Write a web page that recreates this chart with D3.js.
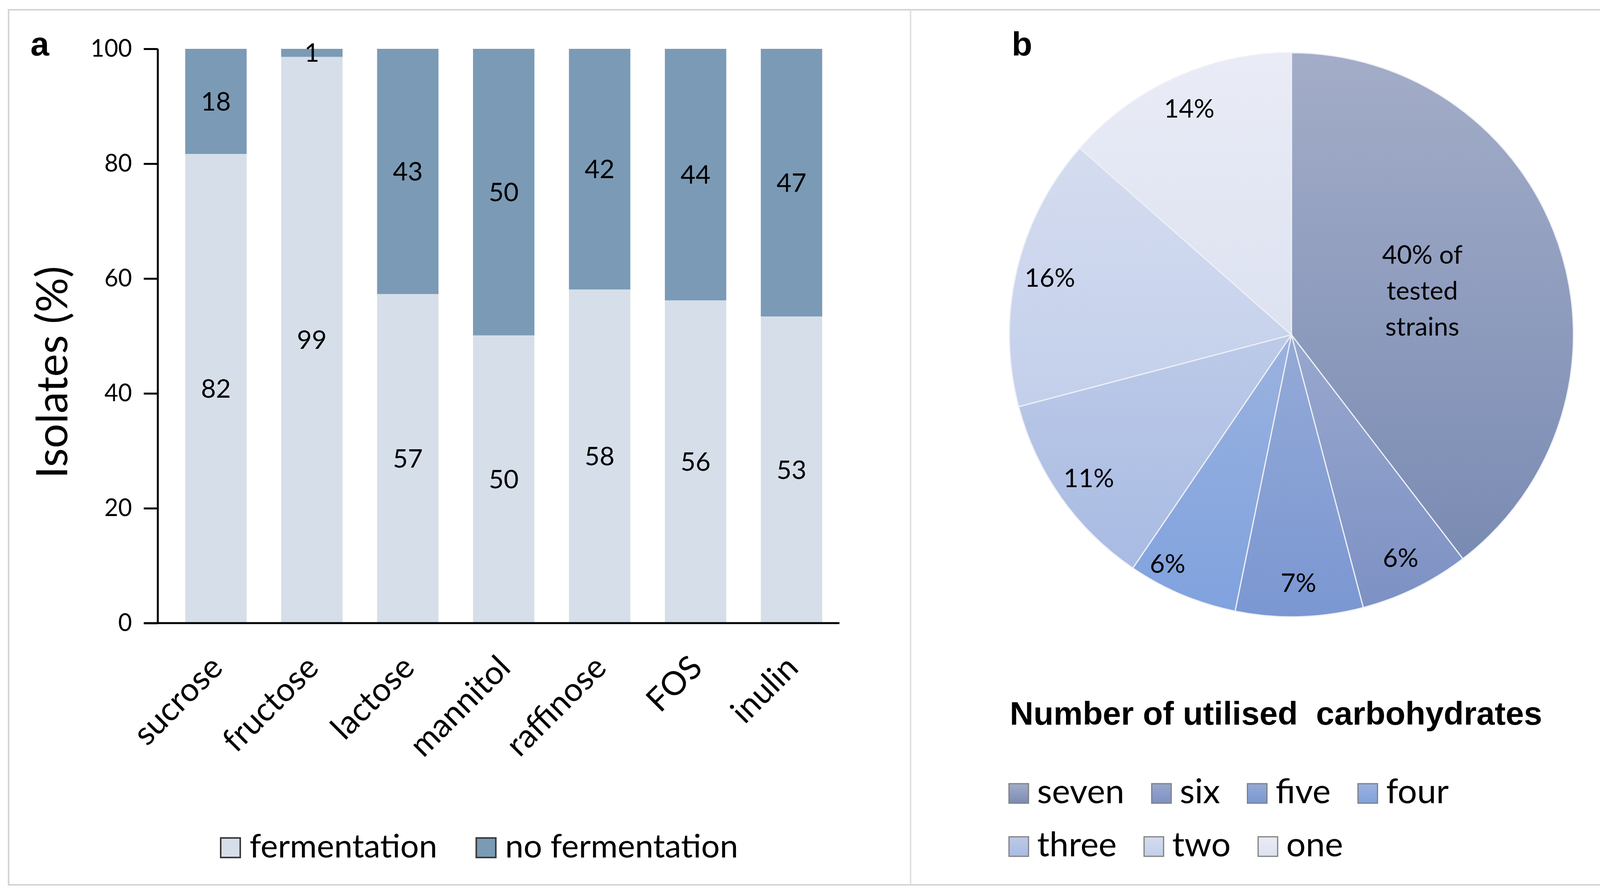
<!DOCTYPE html>
<html>
<head>
<meta charset="utf-8">
<script src="https://cdn.jsdelivr.net/npm/d3@7"></script>
<style>
  body { margin: 0; background: #fff; }
  text { font-family: Lato, "Open Sans", sans-serif; fill: #000; }
</style>
</head>
<body>
<svg id="fig"></svg>
<script>
// panel a data
var categories = ["sucrose", "fructose", "lactose", "mannitol", "raffinose", "FOS", "inulin"];
var fermentation = [81.7, 98.6, 57.3, 50.1, 58.1, 56.2, 53.4];
var noFermentation = [18.3, 1.4, 42.7, 49.9, 41.9, 43.8, 46.6];
var seriesNames = ["fermentation", "no fermentation"];
var yTicks = [0, 20, 40, 60, 80, 100];

// panel b data
var pieNames = ["seven", "six", "five", "four", "three", "two", "one"];
var pieValues = [39.6, 6.3, 7.3, 6.3, 11.4, 15.6, 13.5];
var legendTitle = "Number of utilised  carbohydrates";

var barColors = ["#d6dfe9", "#7b9ab5"];
var pieTop = ["#a3adc8", "#98a7cd", "#94aad7", "#9ab2df", "#bdcae8", "#d4dcef", "#e9ecf6"];
var pieBottom = ["#7a8bb3", "#7d91c4", "#7b97d2", "#80a2de", "#a8bbe3", "#c3cfeb", "#dde2f1"];

var WIDTH = 4150, HEIGHT = 2291;
var svg = d3.select("#fig").attr("width", WIDTH).attr("height", HEIGHT);
var defs = svg.append("defs");

// frame
svg.append("rect").attr("x", 22).attr("y", 25).attr("width", 4096).attr("height", 2240)
    .attr("fill", "none").attr("stroke", "#d4d4d4").attr("stroke-width", 4);
svg.append("line").attr("x1", 2331).attr("x2", 2331).attr("y1", 25).attr("y2", 2265)
    .attr("stroke", "#e0e0e0").attr("stroke-width", 4);

svg.append("text").attr("x", 78).attr("y", 142).text("a")
    .style("font-family", "'Liberation Sans', Arial, sans-serif").style("font-weight", "bold").style("font-size", "86px");
svg.append("text").attr("x", 2590).attr("y", 142).text("b")
    .style("font-family", "'Liberation Sans', Arial, sans-serif").style("font-weight", "bold").style("font-size", "86px");

// ---------- bar chart ----------
var axisX = 404;
var x = d3.scaleBand().domain(categories).range([430, 2149]).paddingInner(0.36).paddingOuter(0.18);
var y = d3.scaleLinear().domain([0, 100]).range([1595, 125]);

var g = svg.append("g");
var rows = categories.map(function(c, i) {
    return {cat: c, fermentation: fermentation[i], "no fermentation": noFermentation[i]};
});
var stacked = d3.stack().keys(seriesNames)(rows);

var layer = g.selectAll("g.layer").data(stacked).enter().append("g")
    .attr("fill", function(d, i) { return barColors[i]; });
layer.selectAll("rect").data(function(d) { return d; }).enter().append("rect")
    .attr("x", function(d) { return x(d.data.cat); })
    .attr("width", x.bandwidth())
    .attr("y", function(d) { return y(d[1]); })
    .attr("height", function(d) { return y(d[0]) - y(d[1]); });
layer.selectAll("text").data(function(d) { return d; }).enter().append("text")
    .attr("x", function(d) { return x(d.data.cat) + x.bandwidth() / 2; })
    .attr("y", function(d) { return y((d[0] + d[1]) / 2); })
    .attr("dy", "0.35em")
    .attr("text-anchor", "middle")
    .style("font-size", "66px")
    .text(function(d) { return Math.round(d[1] - d[0]); });

var yAxis = g.append("g").attr("transform", "translate(" + axisX + ",0)")
    .call(d3.axisLeft(y).tickValues(yTicks).tickSize(36).tickPadding(30));
yAxis.select(".domain").attr("stroke", "#000").attr("stroke-width", 5).attr("d", "M0," + y(100) + "V" + y(0));
yAxis.selectAll(".tick line").attr("stroke", "#000").attr("stroke-width", 5);
yAxis.selectAll(".tick text").style("font-size", "61px").style("font-family", "Lato, sans-serif");

var xAxis = g.append("g").attr("transform", "translate(0," + y(0) + ")")
    .call(d3.axisBottom(x).tickSize(0));
xAxis.select(".domain").attr("stroke", "#000").attr("stroke-width", 5)
    .attr("d", "M" + (axisX - 36) + ",0H2149");
xAxis.selectAll(".tick text")
    .attr("x", 0).attr("y", 0).attr("dy", 0)
    .attr("text-anchor", "end")
    .attr("transform", "translate(22,119) rotate(-45)")
    .style("font-size", "84px").style("font-family", "Lato, sans-serif");

svg.append("text")
    .attr("transform", "translate(172,953) rotate(-90)")
    .attr("text-anchor", "middle")
    .style("font-size", "111px")
    .text("Isolates (%)");

// legend a
var lgA = svg.append("g");
var lx = 565;
seriesNames.forEach(function(name, i) {
    lgA.append("rect").attr("x", lx).attr("y", 2145).attr("width", 50).attr("height", 50)
        .attr("fill", barColors[i]).attr("stroke", "#3a3a3a").attr("stroke-width", 4);
    var t = lgA.append("text").attr("x", lx + 74).attr("y", 2195).style("font-size", "84px").text(name);
    lx = lx + 74 + t.node().getComputedTextLength() + 100;
});

// ---------- pie chart ----------
var cx = 3306, cy = 857, R = 722;
pieNames.forEach(function(n, i) {
    var gr = defs.append("linearGradient").attr("id", "pg" + i)
        .attr("x1", 0).attr("y1", 0).attr("x2", 0).attr("y2", 1);
    gr.append("stop").attr("offset", "0%").attr("stop-color", pieTop[i]);
    gr.append("stop").attr("offset", "100%").attr("stop-color", pieBottom[i]);
});

var pie = d3.pie().sort(null).value(function(d) { return d; });
var arcs = pie(pieValues);
var arc = d3.arc().innerRadius(0).outerRadius(R);
var pg = svg.append("g").attr("transform", "translate(" + cx + "," + cy + ")");
pg.selectAll("path").data(arcs).enter().append("path")
    .attr("d", arc)
    .attr("fill", function(d, i) { return "url(#pg" + i + ")"; })
    .attr("stroke", "#eef0f6").attr("stroke-width", 3);

var labelArc = d3.arc().innerRadius(R * 0.88).outerRadius(R * 0.88);
var bigArc = d3.arc().innerRadius(R * 0.49).outerRadius(R * 0.49);
arcs.forEach(function(d, i) {
    var pct = Math.round(d.data) + "%";
    if (i === 0) {
        var c = bigArc.centroid(d);
        var lines = [pct + " of", "tested", "strains"];
        lines.forEach(function(s, k) {
            pg.append("text").attr("x", c[0]).attr("y", c[1] + (k - 1) * 92)
                .attr("dy", "0.35em").attr("text-anchor", "middle")
                .style("font-size", "66px").text(s);
        });
    } else {
        var p = labelArc.centroid(d);
        // Excel nudges the "four" label toward its neighbour
        var nudge = (i === 3) ? -70 : 0;
        pg.append("text").attr("x", p[0] + nudge).attr("y", p[1]).attr("dy", "0.35em")
            .attr("text-anchor", "middle").style("font-size", "66px").text(pct);
    }
});

// legend b
svg.append("text").attr("x", 2585).attr("y", 1855)
    .style("font-family", "'Liberation Sans', Arial, sans-serif").style("font-weight", "bold")
    .style("font-size", "84px").style("white-space", "pre")
    .text(legendTitle);

var lgB = svg.append("g");
var rowsB = [[0, 1, 2, 3], [4, 5, 6]];
var baseY = [2056, 2192];
rowsB.forEach(function(r, ri) {
    var px = 2583;
    r.forEach(function(i) {
        lgB.append("rect").attr("x", px).attr("y", baseY[ri] - 50).attr("width", 50).attr("height", 50)
            .attr("fill", "url(#pg" + i + ")").attr("stroke", "#808080").attr("stroke-width", 3);
        var t = lgB.append("text").attr("x", px + 72).attr("y", baseY[ri]).style("font-size", "88px").text(pieNames[i]);
        px = px + 72 + t.node().getComputedTextLength() + 70;
    });
});
</script>
</body>
</html>
